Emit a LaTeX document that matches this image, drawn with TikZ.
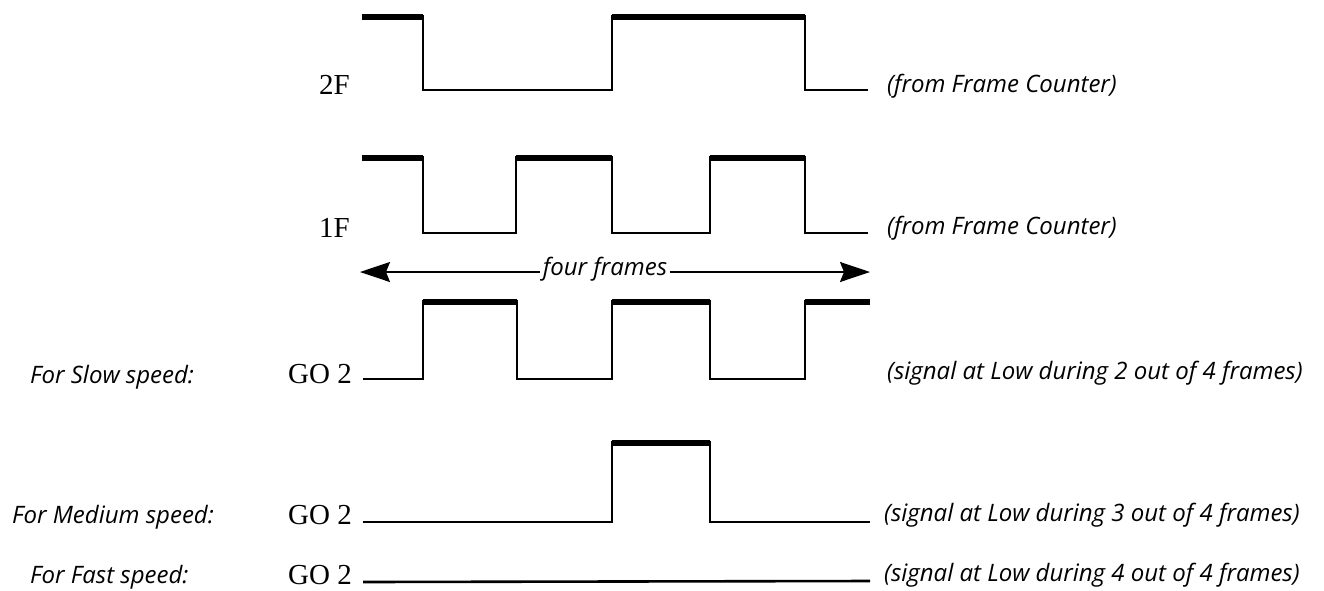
\documentclass[tikz,border=0pt]{standalone}
\usepackage{fontspec}
\setmainfont{Liberation Serif}
\newfontfamily\notefont{Open Sans}
\usetikzlibrary{arrows.meta}
\tikzset{
  wave/.style={line width=2.6pt, line cap=butt, line join=miter},
  hibar/.style={line width=6pt, line cap=butt},
  sig/.style={font=\fontsize{29}{31}\selectfont, inner sep=0pt},
  note/.style={font=\notefont\itshape\fontsize{24}{27}\selectfont, inner sep=0pt},
  span/.style={line width=1.8pt, -{Stealth[length=30pt,width=20pt,inset=4pt]}}
}
\begin{document}
\begin{tikzpicture}[x=1pt,y=-1pt]
\useasboundingbox (0,0) rectangle (1324,590);
% ---- 2F
\node[sig, anchor=east] (l2f) at (350,85) {2F};
\draw[wave] (362,16) -- (423,16) -- (423,90) -- (612,90) -- (612,16) -- (805,16) -- (805,90) -- (868,90);
\draw[hibar] (362,17) -- (423,17) (612,17) -- (805,17);
\node[note, anchor=west] (n2f) at (887,86) {(from Frame Counter)};
% ---- 1F
\node[sig, anchor=east] (l1f) at (350,228) {1F};
\draw[wave] (362,157) -- (423,157) -- (423,233) -- (516,233) -- (516,157) -- (612,157) -- (612,233) -- (710,233) -- (710,157) -- (805,157) -- (805,233) -- (868,233);
\draw[hibar] (362,158) -- (423,158) (516,158) -- (612,158) (710,158) -- (805,158);
\node[note, anchor=west] (n1f) at (887,228) {(from Frame Counter)};
% ---- four frames
\node[note, fill=white, inner xsep=3pt] (ff) at (605,269) {four frames};
\coordinate (aL) at (360,272);
\coordinate (aR) at (870,272);
\draw[span] (ff.west |- aL) -- (aL);
\draw[span] (ff.east |- aR) -- (aR);
% ---- slow
\node[note, anchor=west] (fs) at (30,377) {For Slow speed:};
\node[sig, anchor=east] (gs) at (352,374) {GO 2};
\draw[wave] (363,379) -- (423,379) -- (423,301) -- (517,301) -- (517,379) -- (612,379) -- (612,301) -- (710,301) -- (710,379) -- (805,379) -- (805,301) -- (870,301);
\draw[hibar] (423,302) -- (517,302) (612,302) -- (710,302) (805,302) -- (870,302);
\node[note, anchor=west] (ns) at (887,373) {(signal at Low during 2 out of 4 frames)};
% ---- medium
\node[note, anchor=west] (fm) at (12,517) {For Medium speed:};
\node[sig, anchor=east] (gm) at (352,515) {GO 2};
\draw[wave] (363,522) -- (612,522) -- (612,442) -- (710,442) -- (710,522) -- (870,522);
\draw[hibar] (612,443) -- (710,443);
\node[note, anchor=west] (nm) at (884,515) {(signal at Low during 3 out of 4 frames)};
% ---- fast
\node[note, anchor=west] (ffs) at (30,577) {For Fast speed:};
\node[sig, anchor=east] (gf) at (352,575) {GO 2};
\draw[wave] (363,582) -- (870,581);
\node[note, anchor=west] (nf) at (884,575) {(signal at Low during 4 out of 4 frames)};
\end{tikzpicture}
\end{document}
